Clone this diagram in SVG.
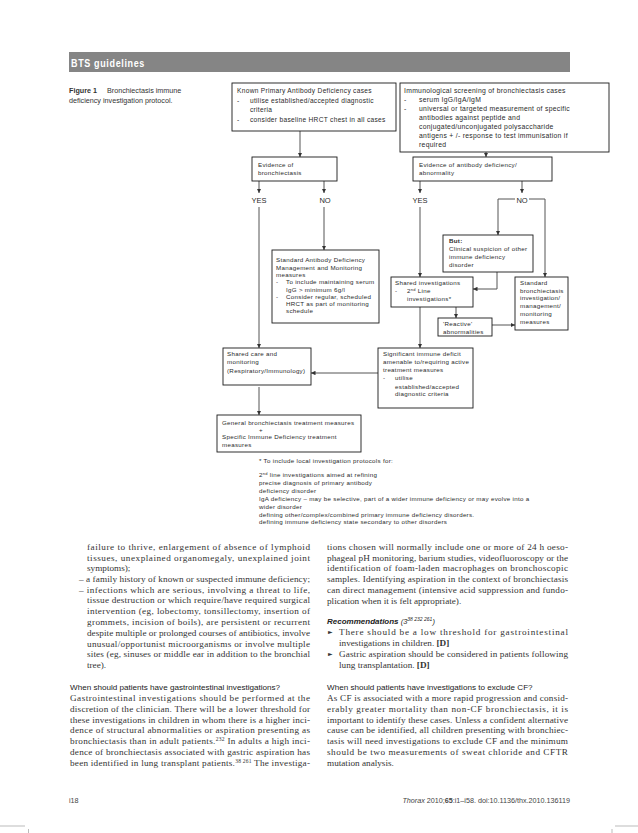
<svg xmlns="http://www.w3.org/2000/svg" width="638" height="833" viewBox="0 0 638 833">
<style>
.fc{font-family:"Liberation Sans",Arial,sans-serif;font-size:6.2px;letter-spacing:0.3px;fill:#2a2a2a}
.fa{font-family:"Liberation Sans",Arial,sans-serif;font-size:6.6px;letter-spacing:0.3px;fill:#2a2a2a}
.fb{font-family:"Liberation Sans",Arial,sans-serif;font-size:6.8px;letter-spacing:0.3px;fill:#2a2a2a}
.yn{font-family:"Liberation Sans",Arial,sans-serif;font-size:7.5px;fill:#2a2a2a;text-anchor:middle}
.box{fill:#fff;stroke:#1a1a1a;stroke-width:0.9}
.conn{fill:none;stroke:#555;stroke-width:1}
.body{font-family:"Liberation Serif","Times New Roman",serif;font-size:9.2px;fill:#333}
.hd{font-family:"Liberation Sans",Arial,sans-serif;font-size:8.1px;fill:#222}
.ft{font-family:"Liberation Sans",Arial,sans-serif;font-size:7.2px;fill:#444}
.cap{font-family:"Liberation Sans",Arial,sans-serif;font-size:7.2px;fill:#333}
</style>
<defs>
<marker id="ah" viewBox="0 0 6 6" refX="6" refY="3" markerWidth="4.5" markerHeight="4.5" markerUnits="userSpaceOnUse" orient="auto"><path d="M0,0 L6,3 L0,6 z" fill="#333"/></marker>
</defs>
<rect width="638" height="833" fill="#fff"/>

<g id="header">
<rect x="69" y="52" width="501" height="20" fill="#858585"/>
<text x="71" y="66.5" font-family="Liberation Sans,Arial,sans-serif" font-weight="bold" font-size="11" fill="#fff" letter-spacing="0.8" textLength="74" lengthAdjust="spacingAndGlyphs">BTS guidelines</text>
</g>

<g id="caption" class="cap">
<text x="69" y="93"><tspan font-weight="bold">Figure 1</tspan><tspan x="107">Bronchiectasis immune</tspan></text>
<text x="69" y="103">deficiency investigation protocol.</text>
</g>

<g id="connectors" class="conn">
<line x1="300" y1="131" x2="300" y2="157" marker-end="url(#ah)"/>
<line x1="486" y1="152" x2="486" y2="157" marker-end="url(#ah)"/>
<line x1="259" y1="181" x2="259" y2="193" marker-end="url(#ah)"/>
<line x1="324" y1="181" x2="324" y2="193" marker-end="url(#ah)"/>
<line x1="420" y1="181" x2="420" y2="193" marker-end="url(#ah)"/>
<line x1="522" y1="181" x2="522" y2="193" marker-end="url(#ah)"/>
<line x1="259" y1="207" x2="259" y2="348" marker-end="url(#ah)"/>
<line x1="324" y1="207" x2="324" y2="250" marker-end="url(#ah)"/>
<line x1="420" y1="207" x2="420" y2="277" marker-end="url(#ah)"/>
<polyline points="515,199 498,199 498,235" marker-end="url(#ah)"/>
<polyline points="529,199 545,199 545,277" marker-end="url(#ah)"/>
<polyline points="497,272 497,289 473,289" marker-end="url(#ah)"/>
<line x1="456" y1="307" x2="456" y2="318" marker-end="url(#ah)"/>
<line x1="492" y1="325" x2="515" y2="325" marker-end="url(#ah)"/>
<line x1="420" y1="307" x2="420" y2="348" marker-end="url(#ah)"/>
<line x1="378" y1="373" x2="311" y2="373" marker-end="url(#ah)"/>
<line x1="259" y1="387" x2="259" y2="415" marker-end="url(#ah)"/>
</g>

<g id="node-known">
<rect class="box" x="232" y="83" width="164" height="48"/>
<text class="fa" x="237" y="93">Known Primary Antibody Deficiency cases</text>
<text class="fa" x="237" y="102.5">-</text><text class="fa" x="250" y="102.5">utilise established/accepted diagnostic</text>
<text class="fa" x="250" y="111.5">criteria</text>
<text class="fa" x="237" y="121.5">-</text><text class="fa" x="250" y="121.5">consider baseline HRCT chest in all cases</text>
</g>

<g id="node-screening">
<rect class="box" x="400" y="83" width="209" height="69"/>
<text class="fb" x="404" y="93">Immunological screening of bronchiectasis cases</text>
<text class="fb" x="404" y="102">-</text><text class="fb" x="419" y="102">serum IgG/IgA/IgM</text>
<text class="fb" x="404" y="111">-</text><text class="fb" x="419" y="111">universal or targeted measurement of specific</text>
<text class="fb" x="419" y="120">antibodies against peptide and</text>
<text class="fb" x="419" y="129">conjugated/unconjugated polysaccharide</text>
<text class="fb" x="419" y="138">antigens + /- response to test immunisation if</text>
<text class="fb" x="419" y="147">required</text>
</g>

<g id="node-evid-bronch">
<rect class="box" x="252" y="157" width="85" height="24"/>
<text class="fc" x="258" y="167">Evidence of</text>
<text class="fc" x="258" y="174.5">bronchiectasis</text>
</g>

<g id="node-evid-ab">
<rect class="box" x="413" y="157" width="139" height="24"/>
<text class="fc" x="419" y="167">Evidence of antibody deficiency/</text>
<text class="fc" x="419" y="174.5">abnormality</text>
</g>

<g id="labels-yn">
<text class="yn" x="259" y="203">YES</text>
<text class="yn" x="325" y="203">NO</text>
<text class="yn" x="420" y="203">YES</text>
<text class="yn" x="522" y="203">NO</text>
</g>

<g id="node-std-ab">
<rect class="box" x="272" y="250" width="107" height="73"/>
<text class="fc" x="276" y="262">Standard Antibody Deficiency</text>
<text class="fc" x="276" y="269.5">Management and Monitoring</text>
<text class="fc" x="276" y="277">measures</text>
<text class="fc" x="276" y="284">-</text><text class="fc" x="286" y="284">To include maintaining serum</text>
<text class="fc" x="286" y="291.5">IgG &gt; minimum 6g/l</text>
<text class="fc" x="276" y="298.5">-</text><text class="fc" x="286" y="298.5">Consider regular, scheduled</text>
<text class="fc" x="286" y="306">HRCT as part of monitoring</text>
<text class="fc" x="286" y="313">schedule</text>
</g>

<g id="node-but">
<rect class="box" x="443" y="235" width="90" height="37"/>
<text class="fc" x="449" y="243" font-weight="bold">But:</text>
<text class="fc" x="449" y="251">Clinical suspicion of other</text>
<text class="fc" x="449" y="259">immune deficiency</text>
<text class="fc" x="449" y="266.5">disorder</text>
</g>

<g id="node-shared-inv">
<rect class="box" x="391" y="277" width="82" height="30"/>
<text class="fc" x="395" y="285">Shared investigations</text>
<text class="fc" x="395" y="293">-</text><text class="fc" x="407" y="293">2<tspan dy="-2" font-size="4">nd</tspan><tspan dy="2"> Line</tspan></text>
<text class="fc" x="407" y="301">investigations*</text>
</g>

<g id="node-std-bronch">
<rect class="box" x="515" y="277" width="53" height="53"/>
<text class="fc" x="520" y="285">Standard</text>
<text class="fc" x="520" y="292.5">bronchiectasis</text>
<text class="fc" x="520" y="300">investigation/</text>
<text class="fc" x="520" y="308">management/</text>
<text class="fc" x="520" y="316">monitoring</text>
<text class="fc" x="520" y="324">measures</text>
</g>

<g id="node-reactive">
<rect class="box" x="438" y="318" width="54" height="18"/>
<text class="fc" x="443" y="326">'Reactive'</text>
<text class="fc" x="443" y="334">abnormalities</text>
</g>

<g id="node-significant">
<rect class="box" x="378" y="348" width="95" height="60"/>
<text class="fc" x="383" y="356">Significant immune deficit</text>
<text class="fc" x="383" y="364">amenable to/requiring active</text>
<text class="fc" x="383" y="372">treatment measures</text>
<text class="fc" x="383" y="380">-</text><text class="fc" x="395" y="380">utilise</text>
<text class="fc" x="395" y="388.5">established/accepted</text>
<text class="fc" x="395" y="396">diagnostic criteria</text>
</g>

<g id="node-shared-care">
<rect class="box" x="223" y="348" width="88" height="37"/>
<text class="fc" x="227" y="356">Shared care and</text>
<text class="fc" x="227" y="364">monitoring</text>
<text class="fc" x="227" y="373">(Respiratory/Immunology)</text>
</g>

<g id="node-general">
<rect class="box" x="217" y="415" width="144" height="37"/>
<text class="fc" x="222" y="425">General bronchiectasis treatment measures</text>
<text class="fc" x="259" y="431.5">+</text>
<text class="fc" x="222" y="439">Specific Immune Deficiency treatment</text>
<text class="fc" x="222" y="447">measures</text>
</g>

<g id="footnote" class="fc">
<text x="259" y="463">*  To include local investigation protocols for:</text>
<text x="259" y="477">2<tspan dy="-2" font-size="4">nd</tspan><tspan dy="2"> line investigations aimed at refining</tspan></text>
<text x="259" y="485">precise diagnosis of primary antibody</text>
<text x="259" y="493">deficiency disorder</text>
<text x="259" y="501">IgA deficiency – may be selective, part of a wider immune deficiency or may evolve into a</text>
<text x="259" y="509">wider disorder</text>
<text x="259" y="516.5">defining other/complex/combined primary immune deficiency disorders.</text>
<text x="259" y="524">defining immune deficiency state secondary to other disorders</text>
</g>

<g id="body-left" class="body">
<text x="87" y="550" textLength="223" lengthAdjust="spacing">failure to thrive, enlargement of absence of lymphoid</text>
<text x="87" y="561" textLength="223" lengthAdjust="spacing">tissues, unexplained organomegaly, unexplained joint</text>
<text x="87" y="571">symptoms);</text>
<text x="79" y="582" textLength="231" lengthAdjust="spacing">– a family history of known or suspected immune deficiency;</text>
<text x="79" y="592.5" textLength="231" lengthAdjust="spacing">– infections which are serious, involving a threat to life,</text>
<text x="87" y="603" textLength="223" lengthAdjust="spacing">tissue destruction or which require/have required surgical</text>
<text x="87" y="614" textLength="223" lengthAdjust="spacing">intervention (eg, lobectomy, tonsillectomy, insertion of</text>
<text x="87" y="625" textLength="223" lengthAdjust="spacing">grommets, incision of boils), are persistent or recurrent</text>
<text x="87" y="636" textLength="223" lengthAdjust="spacing">despite multiple or prolonged courses of antibiotics, involve</text>
<text x="87" y="646.5" textLength="223" lengthAdjust="spacing">unusual/opportunist microorganisms or involve multiple</text>
<text x="87" y="657" textLength="223" lengthAdjust="spacing">sites (eg, sinuses or middle ear in addition to the bronchial</text>
<text x="87" y="668">tree).</text>
<text class="hd" x="70" y="690">When should patients have gastrointestinal investigations?</text>
<text x="70" y="701" textLength="240" lengthAdjust="spacing">Gastrointestinal investigations should be performed at the</text>
<text x="70" y="711.7" textLength="240" lengthAdjust="spacing">discretion of the clinician. There will be a lower threshold for</text>
<text x="70" y="722.5" textLength="240" lengthAdjust="spacing">these investigations in children in whom there is a higher inci-</text>
<text x="70" y="733.2" textLength="240" lengthAdjust="spacing">dence of structural abnormalities or aspiration presenting as</text>
<text x="70" y="744" textLength="240" lengthAdjust="spacing">bronchiectasis than in adult patients.<tspan dy="-3" font-size="5.5">232</tspan><tspan dy="3"> In adults a high inci-</tspan></text>
<text x="70" y="754.7" textLength="240" lengthAdjust="spacing">dence of bronchiectasis associated with gastric aspiration has</text>
<text x="70" y="765.5" textLength="240" lengthAdjust="spacing">been identified in lung transplant patients.<tspan dy="-3" font-size="5.5">38 261</tspan><tspan dy="3"> The investiga-</tspan></text>
</g>

<g id="body-right" class="body">
<text x="327" y="550" textLength="241" lengthAdjust="spacing">tions chosen will normally include one or more of 24 h oeso-</text>
<text x="327" y="560.5" textLength="241" lengthAdjust="spacing">phageal pH monitoring, barium studies, videofluoroscopy or the</text>
<text x="327" y="571" textLength="241" lengthAdjust="spacing">identification of foam-laden macrophages on bronchoscopic</text>
<text x="327" y="582" textLength="241" lengthAdjust="spacing">samples. Identifying aspiration in the context of bronchiectasis</text>
<text x="327" y="593" textLength="241" lengthAdjust="spacing">can direct management (intensive acid suppression and fundo-</text>
<text x="327" y="604">plication when it is felt appropriate).</text>
<text x="327" y="624" font-family="Liberation Sans,Arial,sans-serif" font-size="8" font-weight="bold" font-style="italic" fill="#222">Recommendations<tspan font-weight="normal" font-size="7.5"> (3</tspan><tspan dy="-3" font-size="5" font-weight="normal">38  232  261</tspan><tspan dy="3" font-weight="normal" font-size="7.5">)</tspan></text>
<text x="328" y="634" font-family="DejaVu Sans,sans-serif" font-size="6" fill="#333">►</text>
<text x="339" y="635" textLength="229" lengthAdjust="spacing">There should be a low threshold for gastrointestinal</text>
<text x="339" y="646">investigations in children. <tspan font-weight="bold">[D]</tspan></text>
<text x="328" y="656" font-family="DejaVu Sans,sans-serif" font-size="6" fill="#333">►</text>
<text x="339" y="657" textLength="229" lengthAdjust="spacing">Gastric aspiration should be considered in patients following</text>
<text x="339" y="667.5">lung transplantation. <tspan font-weight="bold">[D]</tspan></text>
<text class="hd" x="327" y="690">When should patients have investigations to exclude CF?</text>
<text x="327" y="701" textLength="241" lengthAdjust="spacing">As CF is associated with a more rapid progression and consid-</text>
<text x="327" y="711.7" textLength="241" lengthAdjust="spacing">erably greater mortality than non-CF bronchiectasis, it is</text>
<text x="327" y="722.5" textLength="241" lengthAdjust="spacing">important to identify these cases. Unless a confident alternative</text>
<text x="327" y="733.2" textLength="241" lengthAdjust="spacing">cause can be identified, all children presenting with bronchiec-</text>
<text x="327" y="744" textLength="241" lengthAdjust="spacing">tasis will need investigations to exclude CF and the minimum</text>
<text x="327" y="754.7" textLength="241" lengthAdjust="spacing">should be two measurements of sweat chloride and CFTR</text>
<text x="327" y="765.5">mutation analysis.</text>
</g>

<g id="footer" class="ft">
<text x="69" y="803">i18</text>
<text x="570" y="803" text-anchor="end"><tspan font-style="italic">Thorax</tspan> 2010;<tspan font-weight="bold">65</tspan>:i1–i58. doi:10.1136/thx.2010.136119</text>
</g>

<g id="cropmarks" stroke="#aaa" stroke-width="0.8">
<line x1="0" y1="826" x2="25" y2="826"/>
<line x1="28.5" y1="829" x2="28.5" y2="833"/>
<line x1="612" y1="829" x2="612" y2="833"/>
<line x1="615" y1="826" x2="638" y2="826"/>
</g>
</svg>
